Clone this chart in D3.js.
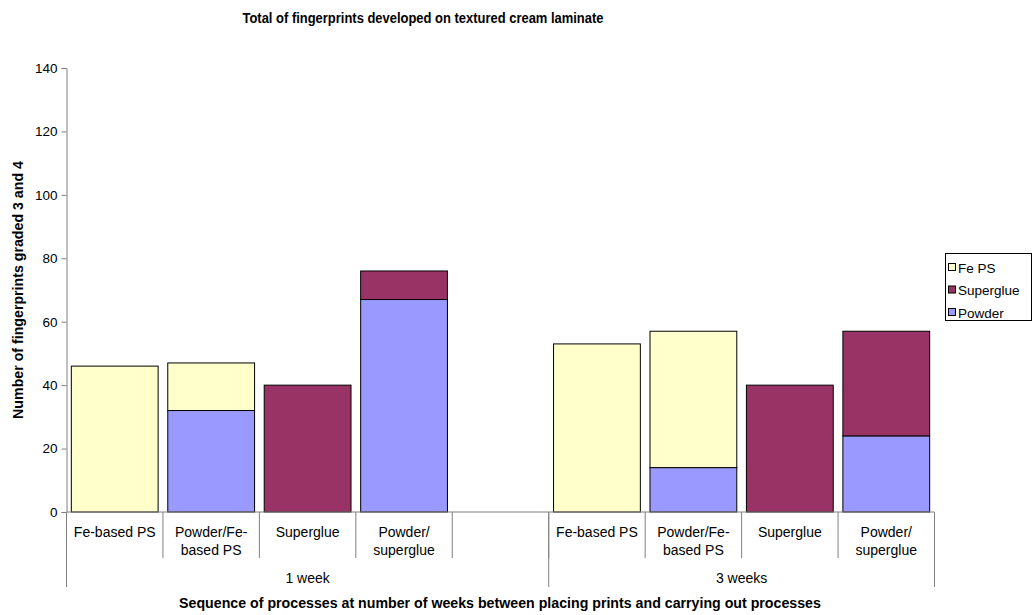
<!DOCTYPE html>
<html><head><meta charset="utf-8">
<script src="https://cdn.jsdelivr.net/npm/d3@7"></script>
<style>body{margin:0;background:#fff;font-family:"Liberation Sans",Arial,sans-serif;}</style>
</head><body><svg id="c" width="1034" height="615"></svg>
<script>
const categories = [
  ["Fe-based PS"], ["Powder/Fe-", "based PS"], ["Superglue"], ["Powder/", "superglue"], [""],
  ["Fe-based PS"], ["Powder/Fe-", "based PS"], ["Superglue"], ["Powder/", "superglue"]
];
const groups = [{label: "1 week", start: 0, end: 5}, {label: "3 weeks", start: 5, end: 9}];
const powder    = [0, 32, 0, 67, 0, 0, 14, 0, 24];
const superglue = [0, 0, 40, 9, 0, 0, 0, 40, 33];
const fePS      = [46, 15, 0, 0, 0, 53, 43, 0, 0];
const seriesNames = ["Powder", "Superglue", "Fe PS"];
const seriesColors = ["#9999FF", "#993366", "#FFFFCC"];
const yTicks = [0, 20, 40, 60, 80, 100, 120, 140];

const svg = d3.select("#c");
const L = 66.5, R = 934.5, T = 68, B = 512;
const idx = d3.range(categories.length);
const x = d3.scaleBand().domain(idx).range([L, R]).padding(0);
const y = d3.scaleLinear().domain([0, 140]).range([B, T]);

const rows = idx.map(i => ({i, Powder: powder[i], Superglue: superglue[i], "Fe PS": fePS[i]}));
const stacked = d3.stack().keys(seriesNames)(rows);

const gBars = svg.append("g");
stacked.forEach((s, k) => {
  gBars.selectAll(null).data(s.filter(d => d[1] - d[0] > 0)).enter().append("rect")
    .attr("x", d => x(d.data.i) + x.step() * 0.05)
    .attr("width", x.step() * 0.9)
    .attr("y", d => y(d[1]))
    .attr("height", d => y(d[0]) - y(d[1]))
    .attr("fill", seriesColors[k])
    .attr("stroke", "#000").attr("stroke-width", 1);
});

// y axis
const yAxis = d3.axisLeft(y).tickValues(yTicks).tickSize(5).tickPadding(4);
const gy = svg.append("g").attr("transform", `translate(${L},0)`).call(yAxis);
gy.select(".domain").attr("stroke", "#808080");
gy.selectAll(".tick line").attr("stroke", "#808080");
gy.selectAll(".tick text").attr("font-family", "Liberation Sans, Arial, sans-serif").attr("font-size", 13.5).attr("fill", "#000");

// x axis line
svg.append("line").attr("x1", L).attr("x2", R).attr("y1", B).attr("y2", B).attr("stroke", "#808080");
// category separators
idx.slice(1).forEach(i => {
  svg.append("line").attr("x1", x(i)).attr("x2", x(i)).attr("y1", B).attr("y2", 558).attr("stroke", "#808080");
});
// group separators
const gEdges = [0, 5, 9];
gEdges.forEach(i => {
  const xx = i < 9 ? x(i) : R;
  svg.append("line").attr("x1", xx).attr("x2", xx).attr("y1", B).attr("y2", 587).attr("stroke", "#808080");
});
// category labels
categories.forEach((lines, i) => {
  const t = svg.append("text").attr("text-anchor", "middle").attr("font-size", 14)
    .attr("x", x(i) + x.step() / 2).attr("y", 537);
  lines.forEach((ln, j) => t.append("tspan").attr("x", x(i) + x.step() / 2).attr("dy", j ? 17.5 : 0).text(ln));
});
// group labels
groups.forEach(g => {
  const x0 = x(g.start), x1 = g.end < 9 ? x(g.end) : R;
  svg.append("text").attr("text-anchor", "middle").attr("font-size", 14)
    .attr("x", (x0 + x1) / 2).attr("y", 583).text(g.label);
});

// titles
svg.append("text").attr("x", 423).attr("y", 23).attr("text-anchor", "middle")
  .attr("font-size", 14.5).attr("font-weight", "bold")
  .attr("textLength", 361).attr("lengthAdjust", "spacingAndGlyphs")
  .text("Total of fingerprints developed on textured cream laminate");
svg.append("text").attr("x", 500).attr("y", 608).attr("text-anchor", "middle")
  .attr("font-size", 14.2).attr("font-weight", "bold").text("Sequence of processes at number of weeks between placing prints and carrying out processes");
svg.append("text").attr("transform", "translate(22.5,290) rotate(-90)").attr("text-anchor", "middle")
  .attr("font-size", 14.2).attr("font-weight", "bold").text("Number of fingerprints graded 3 and 4");

// legend
const lg = svg.append("g");
lg.append("rect").attr("x", 945.5).attr("y", 253.5).attr("width", 86).attr("height", 67)
  .attr("fill", "#fff").attr("stroke", "#000");
const legendOrder = [2, 1, 0];
legendOrder.forEach((k, j) => {
  const yy = 267.5 + j * 22.5;
  lg.append("rect").attr("x", 948.5).attr("y", yy - 4).attr("width", 7).attr("height", 7)
    .attr("fill", seriesColors[k]).attr("stroke", "#000");
  lg.append("text").attr("x", 958).attr("y", yy + 5).attr("font-size", 13.5).text(seriesNames[k]);
});
</script></body></html>
